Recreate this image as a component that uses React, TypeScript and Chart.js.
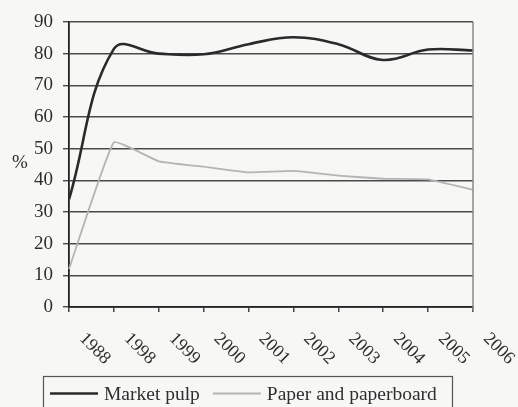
import React, { useEffect, useRef } from "react";
import { Chart, registerables } from "chart.js";

Chart.register(...registerables);

const categories = ["1988", "1998", "1999", "2000", "2001", "2002", "2003", "2004", "2005", "2006"];
const marketPulp = [34, 81.5, 80, 79.8, 83, 85.2, 83, 78, 81.3, 81];
const paperAndPaperboard = [12, 52, 46, 44.3, 42.5, 43, 41.5, 40.5, 40.3, 37];
const yTicks = [0, 10, 20, 30, 40, 50, 60, 70, 80, 90];
const seriesNames = ["Market pulp", "Paper and paperboard"];

const FONT = "'Liberation Serif', 'DejaVu Serif', serif";

const customPlugin = {
  id: "customDraw",
  afterDraw(chart: any) {
    const ctx = chart.ctx as CanvasRenderingContext2D;
    const area = chart.chartArea;
    const xs = chart.scales.x;
    ctx.save();
    // right border
    ctx.strokeStyle = "#8a8a8a";
    ctx.lineWidth = 1.5;
    ctx.beginPath();
    ctx.moveTo(area.right, area.top);
    ctx.lineTo(area.right, area.bottom + 4);
    ctx.stroke();

    // x labels rotated down-right
    ctx.fillStyle = "#2e2e2e";
    ctx.font = `18px ${FONT}`;
    ctx.textAlign = "left";
    ctx.textBaseline = "middle";
    categories.forEach((lab, i) => {
      const x = xs.getPixelForTick(i);
      ctx.save();
      ctx.translate(x + 13, area.bottom + 29);
      ctx.rotate(Math.PI / 4);
      ctx.fillText(lab, 0, 0);
      ctx.restore();
    });

    // y title
    ctx.font = `19px ${FONT}`;
    ctx.textAlign = "center";
    ctx.fillText("%", 20, 163);

    // legend
    const top = 376.5;
    const left = 43.5;
    const right = 452.5;
    ctx.strokeStyle = "#555";
    ctx.lineWidth = 1.2;
    ctx.strokeRect(left, top, right - left, 40);
    ctx.font = `19.5px ${FONT}`;
    ctx.textAlign = "left";
    ctx.textBaseline = "middle";
    let x = 50;
    const y = 393.5;
    chart.data.datasets.forEach((ds: any) => {
      ctx.strokeStyle = ds.borderColor;
      ctx.lineWidth = ds.borderWidth;
      ctx.beginPath();
      ctx.moveTo(x, y);
      ctx.lineTo(x + 48, y);
      ctx.stroke();
      ctx.fillStyle = "#2e2e2e";
      ctx.fillText(ds.label, x + 54, y + 1);
      x += 54 + ctx.measureText(ds.label).width + 13;
    });
    ctx.restore();
  },
};

export default function App() {
  const ref = useRef<HTMLCanvasElement>(null);
  useEffect(() => {
    if (!ref.current) return;
    const chart = new Chart(ref.current, {
      type: "line",
      data: {
        labels: categories,
        datasets: [
          {
            label: seriesNames[0],
            data: marketPulp,
            borderColor: "#2a2a2a",
            borderWidth: 2.6,
            pointRadius: 0,
            tension: 0.4,
            fill: false,
          },
          {
            label: seriesNames[1],
            data: paperAndPaperboard,
            borderColor: "#b4b4b4",
            borderWidth: 1.8,
            pointRadius: 0,
            tension: 0.1,
            fill: false,
          },
        ],
      },
      options: {
        animation: false,
        responsive: true,
        maintainAspectRatio: false,
        layout: { padding: { left: 0, right: 45, top: 22, bottom: 0 } },
        plugins: { legend: { display: false }, tooltip: { enabled: false } },
        scales: {
          x: {
            type: "category",
            offset: false,
            grid: { drawOnChartArea: false, drawTicks: true, tickLength: 5, color: "#444", lineWidth: 1.5 },
            border: { display: true, color: "#222", width: 1.8 },
            ticks: { display: false },
            afterFit: (s: any) => { s.height = 100; },
          },
          y: {
            min: 0,
            max: 90,
            afterBuildTicks: (s: any) => { s.ticks = yTicks.map((v) => ({ value: v })); },
            grid: { color: "#4a4a4a", lineWidth: 1.4, tickLength: 6 },
            border: { display: true, color: "#222", width: 1.8 },
            ticks: { padding: 10, color: "#2e2e2e", font: { family: FONT, size: 19 } },
            afterFit: (s: any) => { s.width = 69; },
          },
        },
      },
      plugins: [customPlugin],
    });
    return () => chart.destroy();
  }, []);
  return (
    <div style={{ position: "absolute", left: 0, top: 0, width: 518, height: 407, background: "#f7f7f5" }}>
      <canvas ref={ref} />
    </div>
  );
}
